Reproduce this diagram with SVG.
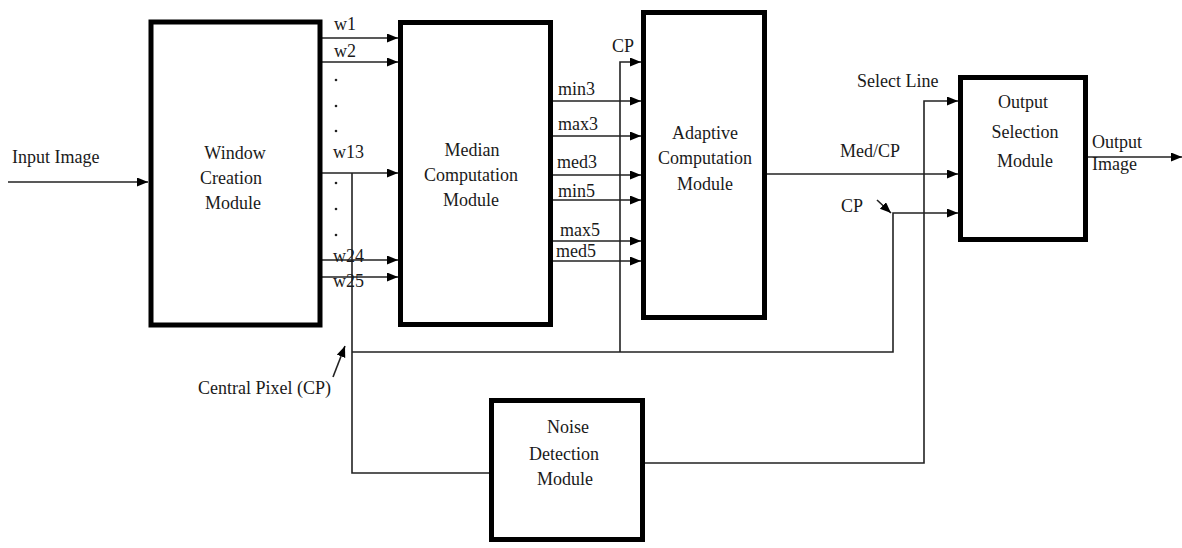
<svg xmlns="http://www.w3.org/2000/svg" width="1182" height="548" viewBox="0 0 1182 548">
<style>
.box{fill:#fff;stroke:#000;stroke-width:5}
.ln{fill:none;stroke:#222;stroke-width:1.6}
.ar{marker-end:url(#ah)}
text{font-family:'Liberation Serif','DejaVu Serif','Times New Roman',serif;font-size:18px;fill:#1a1a1a}
.c{text-anchor:middle}
.dot{fill:#222}
</style>
<defs>
<marker id="ah" markerUnits="userSpaceOnUse" markerWidth="12" markerHeight="10" refX="11" refY="4.5" orient="auto">
<path d="M0,0 L11,4.5 L0,9 z" fill="#000"/>
</marker>
</defs>
<rect width="1182" height="548" fill="#fff"/>
<g id="connectors">
<line class="ln ar" x1="8" y1="182" x2="148" y2="182"/>
<line class="ln ar" x1="322" y1="38" x2="398" y2="38"/>
<line class="ln ar" x1="322" y1="62" x2="398" y2="62"/>
<line class="ln ar" x1="322" y1="173" x2="398" y2="173"/>
<line class="ln ar" x1="322" y1="260" x2="398" y2="260"/>
<line class="ln ar" x1="322" y1="277" x2="398" y2="277"/>
<circle class="dot" cx="336" cy="80" r="1.3"/>
<circle class="dot" cx="336" cy="106" r="1.3"/>
<circle class="dot" cx="336" cy="131" r="1.3"/>
<circle class="dot" cx="336" cy="183" r="1.3"/>
<circle class="dot" cx="336" cy="209" r="1.3"/>
<circle class="dot" cx="336" cy="235" r="1.3"/>
<polyline class="ln" points="352,173 352,473 491,473"/>
<polyline class="ln ar" points="352,352 893,352 893,213 958,213"/>
<polyline class="ln ar" points="620,352 620,62 641,62"/>
<line class="ln ar" x1="553" y1="101" x2="641" y2="101"/>
<line class="ln ar" x1="553" y1="136" x2="641" y2="136"/>
<line class="ln ar" x1="553" y1="175" x2="641" y2="175"/>
<line class="ln ar" x1="553" y1="200" x2="641" y2="200"/>
<line class="ln ar" x1="553" y1="241" x2="641" y2="241"/>
<line class="ln ar" x1="553" y1="261" x2="641" y2="261"/>
<line class="ln ar" x1="767" y1="174" x2="958" y2="174"/>
<polyline class="ln ar" points="645,463 924,463 924,101 958,101"/>
<line class="ln ar" x1="1088" y1="157" x2="1182" y2="157"/>
<line class="ln ar" x1="877" y1="200" x2="891" y2="213"/>
<line class="ln ar" x1="333" y1="377" x2="345" y2="346"/>
</g>
<g id="window-creation" font-family="Liberation Serif, serif">
<rect class="box" x="151" y="22" width="169" height="303"/>
<text class="c" x="235" y="159">Window</text>
<text class="c" x="231" y="184">Creation</text>
<text class="c" x="233" y="209">Module</text>
</g>
<g id="median-computation">
<rect class="box" x="400.5" y="22.5" width="150" height="302"/>
<text class="c" x="472" y="156">Median</text>
<text class="c" x="471" y="181">Computation</text>
<text class="c" x="471" y="206">Module</text>
</g>
<g id="adaptive-computation">
<rect class="box" x="643.5" y="12.5" width="121" height="305"/>
<text class="c" x="705" y="139">Adaptive</text>
<text class="c" x="705" y="164">Computation</text>
<text class="c" x="705" y="190">Module</text>
</g>
<g id="output-selection">
<rect class="box" x="960.5" y="77.5" width="125" height="162"/>
<text class="c" x="1023" y="108">Output</text>
<text class="c" x="1025" y="138">Selection</text>
<text class="c" x="1025" y="167">Module</text>
</g>
<g id="noise-detection">
<rect class="box" x="491.5" y="400.5" width="151" height="139"/>
<text class="c" x="568" y="433">Noise</text>
<text class="c" x="564" y="460">Detection</text>
<text class="c" x="565" y="485">Module</text>
</g>
<g id="labels">
<text x="12" y="163">Input Image</text>
<text x="334" y="30">w1</text>
<text x="334" y="57">w2</text>
<text x="333" y="158">w13</text>
<text x="333" y="262">w24</text>
<text x="333" y="287">w25</text>
<text x="612" y="52">CP</text>
<text x="558" y="95">min3</text>
<text x="558" y="130">max3</text>
<text x="557" y="168">med3</text>
<text x="558" y="197">min5</text>
<text x="560" y="236">max5</text>
<text x="556" y="257">med5</text>
<text x="840" y="157">Med/CP</text>
<text x="857" y="87">Select Line</text>
<text x="841" y="212">CP</text>
<text x="1092" y="148">Output</text>
<text x="1092" y="170">Image</text>
<text x="198" y="394">Central Pixel (CP)</text>
</g>
</svg>
